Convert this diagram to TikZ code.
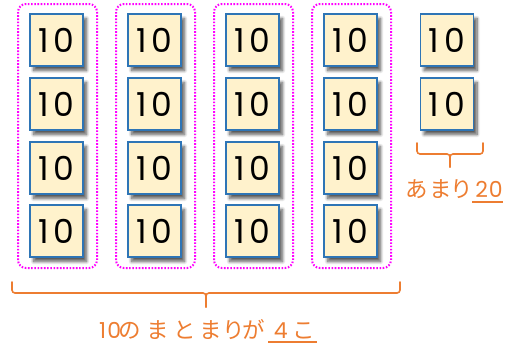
\documentclass[tikz,border=0pt]{standalone}
\usepackage{fontspec}
\newfontfamily\jp{Noto Sans CJK JP}
\newfontfamily\dg{Poppins}
\usetikzlibrary{shadows.blur}
\definecolor{cardfill}{HTML}{FFF2CC}
\definecolor{cardline}{HTML}{2E75B6}
\definecolor{grp}{HTML}{FF00FF}
\definecolor{org}{HTML}{ED7D31}
\newcommand\glyphat[2]{\rlap{\hspace{#1}\makebox[0pt][c]{#2}}}
\newcommand\dgt{\dg\fontsize{22}{22}\selectfont}
\tikzset{
  card/.style={draw=cardline, line width=1.2pt, fill=cardfill, minimum width=53pt, minimum height=52pt, inner sep=0pt,
    font=\dg\fontsize{33}{33}\selectfont, blur shadow={shadow xshift=3.5pt, shadow yshift=-4.5pt, shadow opacity=65, shadow blur steps=8, shadow blur radius=3pt}},
  grpbox/.style={draw=grp, line width=2pt, dash pattern=on 1.6pt off 1.6pt, rounded corners=8pt},
  brace/.style={draw=org, line width=1.6pt, rounded corners=3pt, line cap=round},
  lbl/.style={text=org, font=\jp\fontsize{22.5}{22.5}\selectfont, inner sep=0pt},
  ul/.style={draw=org, line width=1.6pt}
}
\begin{document}
\begin{tikzpicture}[x=1pt,y=-1pt]
\useasboundingbox (0,0) rectangle (519,346);
% groups
\foreach \c/\cx in {1/57.5,2/155.5,3/253.5,4/351.5}{
  \draw[grpbox] (\cx-39.5,4) rectangle (\cx+39.5,268);
}
% cards
\foreach \c/\cx in {1/56.5,2/154.5,3/252.5,4/350.5}{
  \foreach \r/\cy in {1/40,2/104,3/168,4/231}{
    \node[card] (c\c\r) at (\cx,\cy) {1\kern5pt0};
  }
}
\node[card] (c51) at (447,40) {1\kern5pt0};
\node[card] (c52) at (447,104) {1\kern5pt0};
% right brace
\draw[brace] (417,143) -- (417,154) -- (450,154) -- (450,167);
\draw[brace] (483,143) -- (483,154) -- (450,154) -- (450,167);
% bottom brace
\draw[brace] (12,282) -- (12,293) -- (206,293) -- (206,307);
\draw[brace] (400,282) -- (400,293) -- (206,293) -- (206,307);
% labels
\node[lbl, anchor=base west] (rest) at (404.5,197.5) {\glyphat{11.5pt}{あ}\glyphat{35.5pt}{ま}\glyphat{57pt}{り}\glyphat{76.5pt}{\dgt 2}\glyphat{90.5pt}{\dgt 0}\hspace{99pt}};
\node[lbl, anchor=base west] (total) at (98,338.5) {\glyphat{4pt}{\dgt 1}\glyphat{15.5pt}{\dgt 0}\glyphat{31.5pt}{の}\glyphat{59pt}{ま}\glyphat{86pt}{と}\glyphat{112.5pt}{ま}\glyphat{135pt}{り}\glyphat{155.5pt}{が}\glyphat{182pt}{\dgt 4}\glyphat{205.5pt}{こ}\hspace{216pt}};
\draw[ul] (472,202) -- (503,202);
\draw[ul] (268,342) -- (317,342);
\end{tikzpicture}
\end{document}
